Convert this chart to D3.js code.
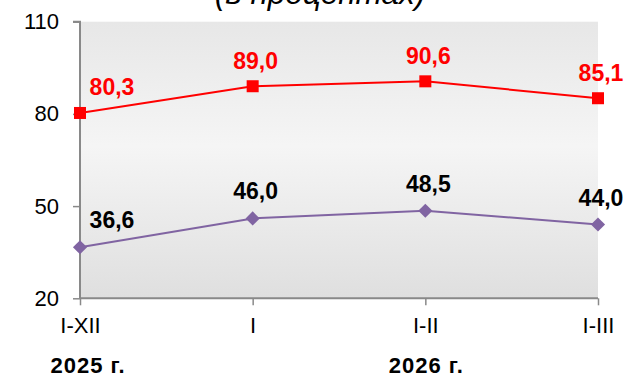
<!DOCTYPE html>
<html>
<head>
<meta charset="utf-8">
<script src="https://cdn.jsdelivr.net/npm/d3@7"></script>
<style>
html,body{margin:0;padding:0;background:#fff;}
svg{display:block;font-family:"Liberation Sans",Arial,sans-serif;}
</style>
</head>
<body>
<svg id="chart" width="628" height="377"></svg>
<script>
const categories = ["I-XII", "I", "I-II", "I-III"];
const seriesRed = [80.3, 89.0, 90.6, 85.1];
const seriesPurple = [36.6, 46.0, 48.5, 44.0];
const yTicks = [20, 50, 80, 110];
const yearLabels = [{text: "2025 г.", cat: "I-XII"}, {text: "2026 г.", cat: "I-II"}];
const title = "(в процентах)";

const svg = d3.select("#chart");
const pLeft = 80, pRight = 598, pTop = 21.7, pBottom = 298.3;

const x = d3.scalePoint().domain(categories).range([pLeft, pRight]);
const y = d3.scaleLinear().domain([20, 110]).range([pBottom, pTop]);

const defs = svg.append("defs");
const grad = defs.append("linearGradient").attr("id", "bg").attr("x1", 0).attr("x2", 0).attr("y1", 0).attr("y2", 1);
grad.append("stop").attr("offset", "0%").attr("stop-color", "#e7e7e7");
grad.append("stop").attr("offset", "45%").attr("stop-color", "#f5f5f5");
grad.append("stop").attr("offset", "100%").attr("stop-color", "#dfdfdf");

svg.append("rect").attr("x", pLeft).attr("y", pTop).attr("width", pRight - pLeft).attr("height", pBottom - pTop).attr("fill", "url(#bg)");

// title (partially clipped at the top, as in the reference)
svg.append("text").attr("x", 320).attr("y", 4).attr("text-anchor", "middle")
  .attr("font-size", 31.5).attr("font-style", "italic").attr("fill", "#000").text(title);

// y axis
const yAxis = svg.append("g").attr("transform", `translate(${pLeft},0)`)
  .call(d3.axisLeft(y).tickValues(yTicks).tickSize(7).tickPadding(14).tickFormat(d3.format("d")));
yAxis.select(".domain").attr("stroke", "#898989").attr("stroke-width", 2).attr("d", `M-7,${pTop}H0V${pBottom}`);
yAxis.selectAll(".tick line").attr("stroke", "#898989").attr("stroke-width", 1.5);
yAxis.selectAll(".tick text").attr("font-size", 22).attr("fill", "#000").attr("font-family", "Liberation Sans, Arial, sans-serif");

// x axis
const xAxis = svg.append("g").attr("transform", `translate(0,${pBottom})`)
  .call(d3.axisBottom(x).tickSize(7).tickPadding(12));
xAxis.select(".domain").attr("stroke", "#898989").attr("stroke-width", 2).attr("d", `M${pLeft},0H${pRight}`);
xAxis.selectAll(".tick line").attr("stroke", "#898989").attr("stroke-width", 1.5);
xAxis.selectAll(".tick text").attr("font-size", 22).attr("fill", "#000").attr("font-family", "Liberation Sans, Arial, sans-serif");

// year labels
const yearDx = [8, 1];
svg.selectAll(".year").data(yearLabels).enter().append("text")
  .attr("x", (d, i) => x(d.cat) + yearDx[i]).attr("y", 373).attr("text-anchor", "middle")
  .attr("font-size", 22).attr("letter-spacing", 1).attr("font-weight", "bold").attr("fill", "#000").text(d => d.text);

const line = d3.line().x((d, i) => x(categories[i])).y(d => y(d));
const fmt = v => v.toFixed(1).replace(".", ",");

// purple series
svg.append("path").datum(seriesPurple).attr("d", line).attr("fill", "none").attr("stroke", "#8064a2").attr("stroke-width", 2);
svg.selectAll(".dia").data(seriesPurple).enter().append("path")
  .attr("transform", (d, i) => `translate(${x(categories[i])},${y(d)}) rotate(45)`)
  .attr("d", "M-5,-5H5V5H-5Z").attr("fill", "#8064a2");
svg.selectAll(".lblP").data(seriesPurple).enter().append("text")
  .attr("x", (d, i) => x(categories[i]) + (i === 0 ? 32 : 3)).attr("y", d => y(d) - 19)
  .attr("text-anchor", "middle").attr("font-size", 23).attr("font-weight", "bold").attr("fill", "#000")
  .text(fmt);

// red series
svg.append("path").datum(seriesRed).attr("d", line).attr("fill", "none").attr("stroke", "#ff0000").attr("stroke-width", 2);
svg.selectAll(".sq").data(seriesRed).enter().append("rect")
  .attr("x", (d, i) => x(categories[i]) - 6).attr("y", d => y(d) - 6)
  .attr("width", 12).attr("height", 12).attr("fill", "#ff0000");
svg.selectAll(".lblR").data(seriesRed).enter().append("text")
  .attr("x", (d, i) => x(categories[i]) + (i === 0 ? 32 : 3)).attr("y", d => y(d) - 17.5)
  .attr("text-anchor", "middle").attr("font-size", 23).attr("font-weight", "bold").attr("fill", "#ff0000")
  .text(fmt);
</script>
</body>
</html>
